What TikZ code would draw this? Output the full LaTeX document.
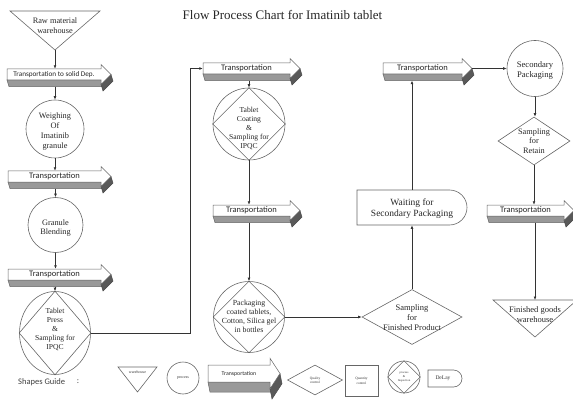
\documentclass[tikz,border=0pt]{standalone}
\usepackage{fontspec}
\setmainfont{Liberation Serif}
\newfontfamily\carlito{Carlito}
\usetikzlibrary{arrows.meta,shapes.geometric,shapes.misc,calc}

\tikzset{
 shp/.style={draw=black!60, line width=0.6pt, inner sep=0pt},
 circ/.style={shp, circle},
 txt/.style={align=center, inner sep=0pt, text=black!85, font=\fontsize{8.3}{9.8}\selectfont},
 tiny/.style={align=center, inner sep=0pt, text=black!80, font=\fontsize{4}{4.6}\selectfont},
 conn/.style={draw=black!80, line width=0.6pt, -{Latex[length=3.5pt,width=2.8pt]}},
 plain/.style={draw=black!80, line width=0.6pt},
 tface/.style={fill=white, draw=black!60, line width=0.5pt},
 tband/.style={fill=black!40, draw=black!60, line width=0.5pt},
 tfacet/.style={fill=black!65, draw=black!70, line width=0.5pt},
 tlabel/.style={inner sep=0pt, text=black!85, font=\carlito\fontsize{8.5}{10}\selectfont},
}

% name, xl, xr, ytop, ybottom, text
\newcommand\transp[6]{%
  \pgfmathsetmacro\tH{#5-#4}%
  \pgfmathsetmacro\tD{0.6*\tH}%
  \pgfmathsetmacro\tO{0.4*\tH}%
  \pgfmathsetmacro\tM{(#4+#5)/2}%
  \pgfmathsetmacro\tC{(#2+#3)/2}%
  \pgfmathsetmacro\tW{#3-#2}%
  \path[tband] (#2,#5) -- (#3,#5) -- (#3+2,#5+\tD) -- (#2+2,#5+\tD) -- cycle;
  \path[tfacet] (#3+10,\tM) -- (#3,#5+\tO) -- (#3+2,#5+\tO+\tD) -- (#3+12,\tM+\tD) -- cycle;
  \path[tface] (#2,#4) -- (#3,#4) -- (#3,#4-\tO) -- (#3+10,\tM) -- (#3,#5+\tO) -- (#3,#5) -- (#2,#5) -- cycle;
  \node[tlabel, minimum width=\tW pt, minimum height=\tH pt] (#1) at (\tC,\tM) {#6};
  \coordinate (#1-b) at (\tC,#5+\tD);
  \coordinate (#1-tip) at (#3+10,\tM);
}

\begin{document}
\begin{tikzpicture}[x=1pt,y=-1pt]
\useasboundingbox (0,0) rectangle (573,401);

% title
\node[inner sep=0pt, text=black!85, font=\fontsize{13}{15}\selectfont] (title) at (282.5,15) {Flow Process Chart for Imatinib tablet};

% ---------- left column ----------
\draw[shp] (10,11) -- (100,11) -- (55,50) -- cycle;
\coordinate (rawtip) at (55,50);
\node[txt] (raw) at (55,25.5) {Raw material\\warehouse};

\transp{t1}{7}{101}{69}{80}{\fontsize{7.2}{8}\selectfont Transportation to solid Dep.}

\node[circ, minimum size=58pt] (weigh) at (55,129) {};
\node[txt, font=\fontsize{8.3}{9.7}\selectfont] (weigh-t) at (55,131.5) {Weighing\\Of\\Imatinib\\granule};

\transp{t2}{8}{101}{171}{182}{Transportation}

\node[circ, minimum size=55pt] (blend) at (55.5,225) {};
\node[txt] (blend-t) at (55.5,228) {Granule\\Blending};

\transp{t3}{8}{101}{269}{280}{Transportation}

\node[shp, ellipse, minimum width=71pt, minimum height=83pt] (press) at (55,333) {};
\draw[shp] (press.north) -- (press.east) -- (press.south) -- (press.west) -- cycle;
\node[txt, font=\fontsize{7.6}{8.8}\selectfont] (press-t) at (55,329.5) {Tablet\\Press\\\&\\Sampling for\\IPQC};

% ---------- middle column ----------
\transp{t4}{203}{290}{63}{74}{Transportation}

\node[circ, minimum size=72pt] (coat) at (249,124) {};
\draw[shp] (coat.north) -- (coat.east) -- (coat.south) -- (coat.west) -- cycle;
\node[txt, font=\fontsize{7.6}{9}\selectfont] (coat-t) at (249,128.5) {Tablet\\Coating\\\&\\Sampling for\\IPQC};

\transp{t5}{213}{290}{205}{216}{Transportation}

\node[circ, minimum size=71pt] (pack) at (249,317) {};
\draw[shp] (pack.north) -- (pack.east) -- (pack.south) -- (pack.west) -- cycle;
\node[txt, font=\fontsize{7.8}{9}\selectfont] (pack-t) at (249,316.5) {Packaging\\coated tablets,\\Cotton, Silica gel\\in bottles};

% ---------- right-middle column ----------
\node[shp, diamond, minimum width=100pt, minimum height=55pt] (sfp) at (412,317) {};
\node[txt, font=\fontsize{8.5}{10}\selectfont] (sfp-t) at (412,318) {Sampling\\for\\Finished Product};

\node[shp, rounded rectangle, rounded rectangle left arc=none, minimum width=110pt, minimum height=35pt] (wait) at (412,207.5) {};
\node[txt, font=\fontsize{9.5}{11}\selectfont] (wait-t) at (412,208.5) {Waiting for\\Secondary Packaging};

\transp{t6}{383}{462}{63}{74}{Transportation}

% ---------- right column ----------
\node[circ, minimum size=56pt] (sec) at (535,68.5) {};
\node[txt, font=\fontsize{8.6}{10.5}\selectfont] (sec-t) at (535,70.5) {Secondary\\Packaging};

\node[shp, diamond, minimum width=72pt, minimum height=48pt] (ret) at (534,141) {};
\node[txt, font=\fontsize{8.3}{9.5}\selectfont] (ret-t) at (534,141) {Sampling\\for\\Retain};

\transp{t7}{487}{564}{205}{216}{Transportation}

\draw[shp] (493,300) -- (577,300) -- (535,337) -- cycle;
\coordinate (fgtop) at (535,300);
\node[txt, font=\fontsize{8.5}{10}\selectfont] (fg-t) at (535,315) {Finished goods\\warehouse};

% ---------- connectors ----------
\coordinate (bend) at (190,0);
\draw[conn] (rawtip) -- (rawtip |- t1.north);
\draw[conn] (t1-b -| weigh.north) -- (weigh.north);
\draw[conn] (weigh.south) -- (weigh.south |- t2.north);
\draw[conn] (t2-b -| blend.north) -- (blend.north);
\draw[conn] (blend.south) -- (blend.south |- t3.north);
\draw[conn] (t3-b -| press.north) -- (press.north);
\draw[conn] (press.east) -- (press.east -| bend) |- (t4.west);
\draw[conn] (t4-b -| coat.north) -- (coat.north);
\draw[conn] (coat.south) -- (coat.south |- t5.north);
\draw[conn] (t5-b -| pack.north) -- (pack.north);
\draw[conn] (pack.east) -- (sfp.west);
\draw[conn] (sfp.north) -- (wait.south);
\draw[conn] (wait.north) -- (wait.north |- t6-b);
\draw[conn] (t6-tip) -- (sec.west);
\draw[conn] (sec.south) -- (sec.south |- ret.north);
\draw[conn] (ret.south) -- (ret.south |- t7.north);
\draw[conn] (t7-b -| fgtop) -- (fgtop);

% ---------- shapes guide ----------
\node[anchor=west, inner sep=0pt, text=black!75, font=\carlito\fontsize{8.5}{10}\selectfont] (guide) at (18,382) {Shapes Guide};
\node[inner sep=0pt, text=black!75, font=\carlito\fontsize{8.5}{10}\selectfont] (colon) at (78,382) {:};

\draw[shp] (118,367) -- (157,367) -- (137.5,392) -- cycle;
\node[tiny] (g-wh) at (137.5,372) {warehouse};

\node[circ, minimum size=32pt] (g-proc) at (183,378) {};
\node[tiny] (g-proc-t) at (183,378) {process};

\transp{g-tr}{208}{270}{365}{382}{\fontsize{5.8}{7}\selectfont Transportation}

\node[shp, diamond, minimum width=55pt, minimum height=30pt] (g-qual) at (315,380) {};
\node[tiny, font=\fontsize{3.5}{4.3}\selectfont] (g-qual-t) at (315,380) {Quality\\control};

\node[shp, rectangle, minimum width=33pt, minimum height=31pt] (g-quan) at (361.5,380.5) {};
\node[tiny, font=\fontsize{3.5}{5}\selectfont] (g-quan-t) at (361.5,380.5) {Quantity\\control};

\node[circ, minimum size=32pt] (g-pi) at (404,377) {};
\draw[shp] (g-pi.north) -- (g-pi.east) -- (g-pi.south) -- (g-pi.west) -- cycle;
\node[tiny, font=\fontsize{3}{3.8}\selectfont] (g-pi-t) at (404,377) {process\\\&\\Inspection};

\node[shp, rounded rectangle, rounded rectangle left arc=none, minimum width=34pt, minimum height=17pt] (g-delay) at (445,378.5) {};
\node[tiny, font=\fontsize{5.5}{6}\selectfont] (g-delay-t) at (443,378.5) {DeLay};
\end{tikzpicture}
\end{document}
